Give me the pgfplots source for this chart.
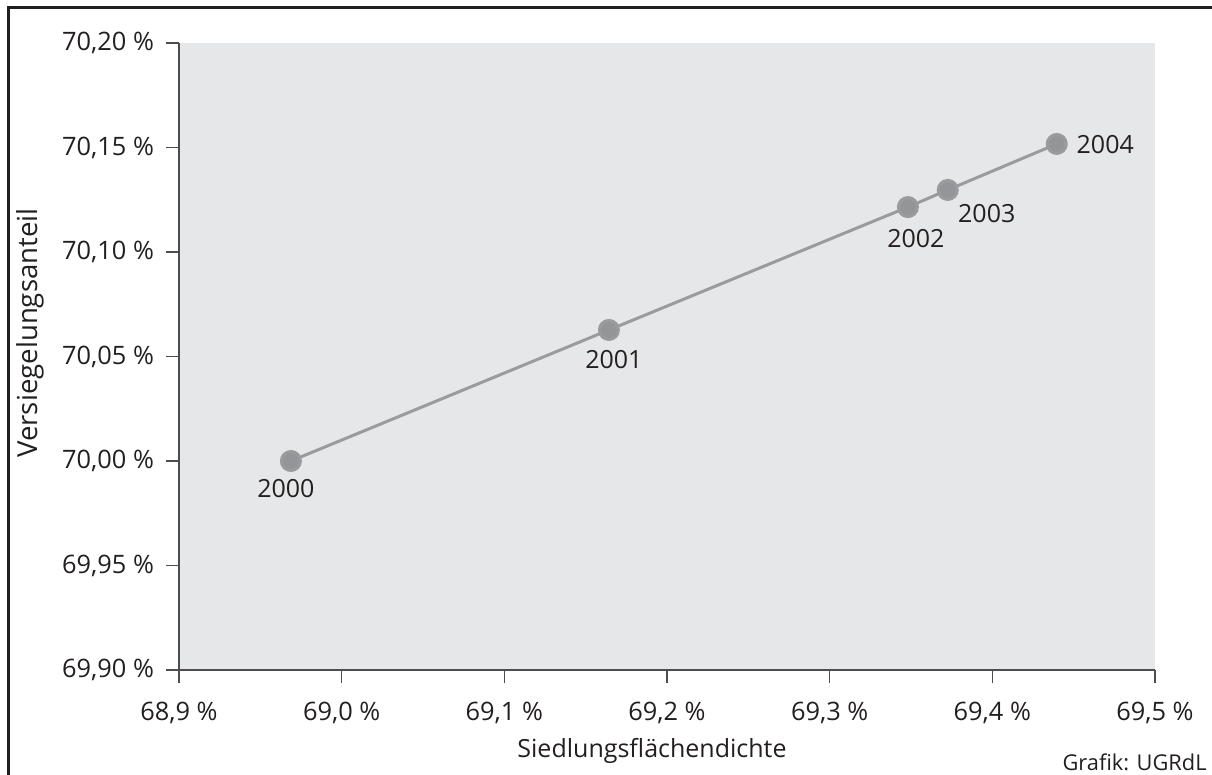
\documentclass[border=0pt]{standalone}
\usepackage{pgfplots}
\pgfplotsset{compat=1.18}
\usepackage{fontspec}
\setmainfont{Open Sans}
\definecolor{bgc}{HTML}{E6E7E8}
\definecolor{axisc}{HTML}{4D4D4F}
\definecolor{linec}{HTML}{9A9B9D}
\definecolor{markc}{HTML}{939598}
\definecolor{textc}{HTML}{231F20}
\begin{document}
\begin{tikzpicture}
\path[use as bounding box] (0pt,0pt) rectangle (606pt,-387.5pt);
\draw[line width=1.5pt, color=textc] (4pt,-387.5pt) -- (4pt,-4pt) -- (606pt,-4pt);
\begin{axis}[
  at={(89.5pt,-335pt)}, anchor=south west,
  scale only axis, width=488pt, height=313.5pt,
  xmin=68.9, xmax=69.5, ymin=69.9, ymax=70.2,
  clip=false,
  axis background/.style={fill=bgc},
  axis lines=left,
  axis line style={-, draw=axisc, line width=0.6pt},
  tick align=outside,
  major tick length=6.5pt,
  tick style={draw=axisc, line width=0.6pt},
  xtick={68.9,69.0,69.1,69.2,69.3,69.4,69.5},
  xticklabels={{68,9 \%},{69,0 \%},{69,1 \%},{69,2 \%},{69,3 \%},{69,4 \%},{69,5 \%}},
  ytick={69.9,69.95,70.0,70.05,70.1,70.15,70.2},
  yticklabels={{69,90 \%},{69,95 \%},{70,00 \%},{70,05 \%},{70,10 \%},{70,15 \%},{70,20 \%}},
  ticklabel style={font=\fontsize{12.7}{15}\selectfont, text=textc},
  yticklabel style={xshift=-2.5pt},
  xticklabel style={yshift=-6pt},
  xlabel={Siedlungsflächendichte},
  ylabel={Versiegelungsanteil},
  xlabel style={font=\fontsize{12.5}{15}\selectfont, text=textc, at={(rel axis cs:0.4846,-0.129)}, anchor=center},
  ylabel style={font=\fontsize{13.8}{16}\selectfont, text=textc, at={(rel axis cs:-0.1527,0.5375)}, anchor=center},
]
\addplot[color=linec, line width=1.5pt, mark=*, mark size=4.75pt,
  mark options={fill=markc, draw=none}] coordinates {
  (68.9688,70.0000)
  (69.1643,70.0627)
  (69.3481,70.1215)
  (69.3726,70.1297)
  (69.4396,70.1517)
};
\begin{scope}[every node/.style={font=\fontsize{12.5}{15}\selectfont, text=textc}]
\node[xshift=-2.5pt, yshift=-14pt] at (axis cs:68.9688,70.0000) {2000};
\node[xshift=2.5pt, yshift=-15pt] at (axis cs:69.1643,70.0627) {2001};
\node[xshift=4pt, yshift=-15.5pt] at (axis cs:69.3481,70.1215) {2002};
\node[xshift=19.5pt, yshift=-12pt] at (axis cs:69.3726,70.1297) {2003};
\node[xshift=24.25pt, yshift=-0.5pt] at (axis cs:69.4396,70.1517) {2004};
\end{scope}
\end{axis}
\node[anchor=base east, font=\fontsize{10.9}{13}\selectfont, text=textc, inner sep=0pt] at (603.5pt,-385.3pt) {Grafik: UGRdL};
\end{tikzpicture}
\end{document}
